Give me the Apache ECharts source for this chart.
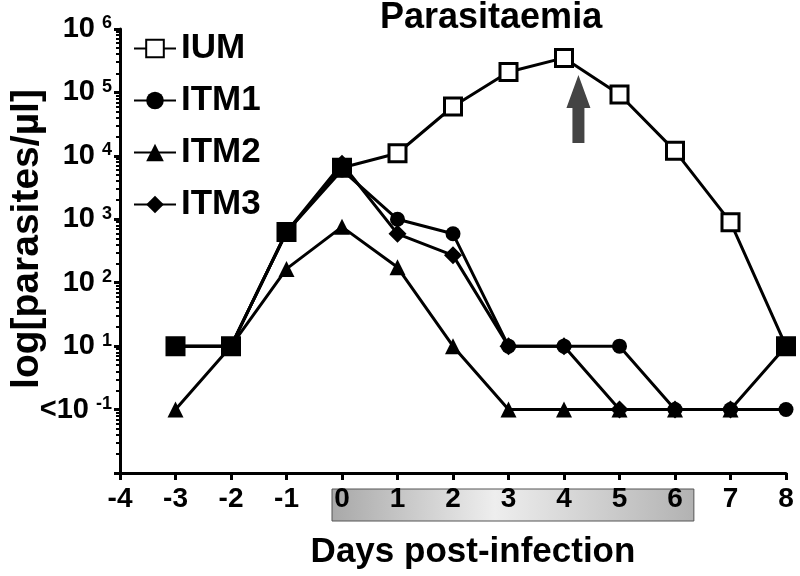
<!DOCTYPE html>
<html>
<head>
<meta charset="utf-8">
<script src="https://cdn.jsdelivr.net/npm/echarts@6/dist/echarts.min.js"></script>
<style>
html, body { margin: 0; padding: 0; background: #fff; }
#main { width: 800px; height: 576px; }
</style>
</head>
<body>
<div id="main"></div>
<script>
// days post-infection
var days = [-3, -2, -1, 0, 1, 2, 3, 4, 5, 6, 7, 8];
// parasites/ul, 1 = below detection (plotted on the "<10^-1" row)
var ium  = [10, 10, 630, 6500, 11000, 60000, 210000, 350000, 93000, 12000, 900, 10];
var itm1 = [10, 10, 630, 6000, 1000, 590, 10, 10, 10, 1, 1, 1];
var itm2 = [1, 10, 165, 760, 175, 10, 1, 1, 1, 1, 1, null];
var itm3 = [10, 10, 630, 7500, 590, 270, 10, 10, 1, 1, 1, 10];
// days where the IUM square is drawn solid
var iumSolidDays = [-3, -2, -1, 0, 8];
// y axis ticks
var yMajor = [0.1, 1, 10, 100, 1000, 10000, 100000, 1000000];
var minorSteps = [2, 3, 4, 5, 6, 7, 8, 9];
// treatment window shading (days) and arrow position
var boxDays = [-0.18, 6.34];
var arrowAt = [4.26, 55000];

var FONT = 'Liberation Sans, Arial, sans-serif';

var yMinor = [];
for (var i = 0; i < yMajor.length - 1; i++) {
	for (var j = 0; j < minorSteps.length; j++) {
		yMinor.push(yMajor[i] * minorSteps[j]);
	}
}

function pairs(arr) {
	var out = [];
	for (var i = 0; i < days.length; i++) {
		out.push([days[i], arr[i]]);
	}
	return out;
}

var iumData = [];
for (var i = 0; i < days.length; i++) {
	var p = { value: [days[i], ium[i]] };
	if (iumSolidDays.indexOf(days[i]) >= 0) {
		p.itemStyle = { color: '#000' };
	}
	iumData.push(p);
}

function lineSeries(name, data, symbol, size) {
	return {
		name: name,
		type: 'line',
		data: data,
		symbol: symbol,
		symbolSize: size,
		showAllSymbol: true,
		connectNulls: false,
		lineStyle: { color: '#000', width: 3 },
		itemStyle: { color: '#000', borderColor: '#000', borderWidth: 0 }
	};
}

var s1 = lineSeries('ITM2', pairs(itm2), 'triangle', 16);
var s2 = lineSeries('ITM1', pairs(itm1), 'circle', 15);
var s3 = lineSeries('ITM3', pairs(itm3), 'diamond', 18);
var s4 = lineSeries('IUM', iumData, 'rect', 17);
s4.itemStyle = { color: '#fff', borderColor: '#000', borderWidth: 3 };
s4.markPoint = {
	silent: true,
	symbol: 'path://M12,0 L24,33 L18,33 L18,68 L6,68 L6,33 L0,33 Z',
	symbolSize: [24, 68],
	itemStyle: { color: '#444', borderWidth: 0 },
	label: { show: false },
	data: [{ coord: arrowAt }]
};

var myChart = echarts.init(document.getElementById('main'));

var option = {
	animation: false,
	backgroundColor: '#fff',
	textStyle: { fontFamily: FONT },
	title: {
		text: 'Parasitaemia',
		left: 380,
		top: 0,
		padding: 0,
		textStyle: { fontSize: 36, fontWeight: 'bold', color: '#000', fontFamily: FONT }
	},
	legend: {
		orient: 'vertical',
		left: 128,
		top: 26,
		itemWidth: 42,
		itemHeight: 22,
		itemGap: 17,
		data: ['IUM', 'ITM1', 'ITM2', 'ITM3'],
		textStyle: { fontSize: 35, fontWeight: 'bold', color: '#000', fontFamily: FONT, lineHeight: 34, padding: [0, 0, 0, 0] }
	},
	grid: {
		left: 120,
		right: 14,
		top: 29,
		bottom: 103,
		containLabel: false,
		outerBoundsMode: 'none'
	},
	xAxis: {
		type: 'value',
		min: -4,
		max: 8,
		interval: 1,
		name: 'Days post-infection',
		nameLocation: 'middle',
		nameGap: 62,
		nameTextStyle: { fontSize: 35, fontWeight: 'bold', color: '#000', fontFamily: FONT, padding: [0, 0, 0, 40] },
		axisLine: { onZero: false, lineStyle: { color: '#000', width: 3 } },
		axisTick: { length: 7, lineStyle: { color: '#000', width: 3 } },
		axisLabel: { fontSize: 28, fontWeight: 'bold', color: '#000', margin: 12, fontFamily: FONT },
		splitLine: { show: false }
	},
	yAxis: [{
		type: 'log',
		logBase: 10,
		min: 0.1,
		max: 1000000,
		splitNumber: 7,
		axisLine: { show: true, onZero: false, lineStyle: { color: '#000', width: 3 } },
		axisTick: { show: true, length: 6, customValues: yMajor, lineStyle: { color: '#000', width: 3 } },
		axisLabel: {
			margin: 8,
			customValues: yMajor,
			formatter: function (v) {
				var e = Math.round(Math.log(v) / Math.LN10);
				if (e < 0) return '';
				if (e === 0) return '{b|<10}{s|-1}';
				return '{b|10}{s|' + e + '}';
			},
			rich: {
				b: { fontSize: 29, fontWeight: 'bold', color: '#000', fontFamily: FONT },
				s: { fontSize: 18, fontWeight: 'bold', color: '#000', fontFamily: FONT, verticalAlign: 'top', padding: [0, 0, 10, 7] }
			}
		},
		splitLine: { show: false }
	}, {
		type: 'log',
		logBase: 10,
		min: 0.1,
		max: 1000000,
		position: 'left',
		axisLine: { show: false, onZero: false },
		axisLabel: { show: false },
		axisTick: { show: true, length: 4, customValues: yMinor, lineStyle: { color: '#000', width: 2 } },
		splitLine: { show: false }
	}],
	series: [s1, s2, s3, s4]
};
myChart.setOption(option);

// y axis title and shaded treatment window behind the x tick labels
var bx0 = myChart.convertToPixel({ xAxisIndex: 0 }, boxDays[0]);
var bx1 = myChart.convertToPixel({ xAxisIndex: 0 }, boxDays[1]);
myChart.setOption({
	graphic: [{
		id: 'ytitle',
		type: 'text',
		x: 27,
		y: 239,
		rotation: Math.PI / 2,
		silent: true,
		style: {
			text: 'log[parasites/\u00b5l]',
			font: 'bold 39px ' + FONT,
			fill: '#000',
			align: 'center',
			verticalAlign: 'middle'
		}
	}, {
		id: 'window',
		type: 'rect',
		z: -1,
		silent: true,
		shape: { x: bx0, y: 489, width: bx1 - bx0, height: 32 },
		style: {
			fill: new echarts.graphic.LinearGradient(0, 0, 1, 0, [
				{ offset: 0, color: '#a8a8a8' },
				{ offset: 0.45, color: '#eeeeee' },
				{ offset: 1, color: '#b2b2b2' }
			]),
			stroke: '#555',
			lineWidth: 1
		}
	}]
});
</script>
</body>
</html>
